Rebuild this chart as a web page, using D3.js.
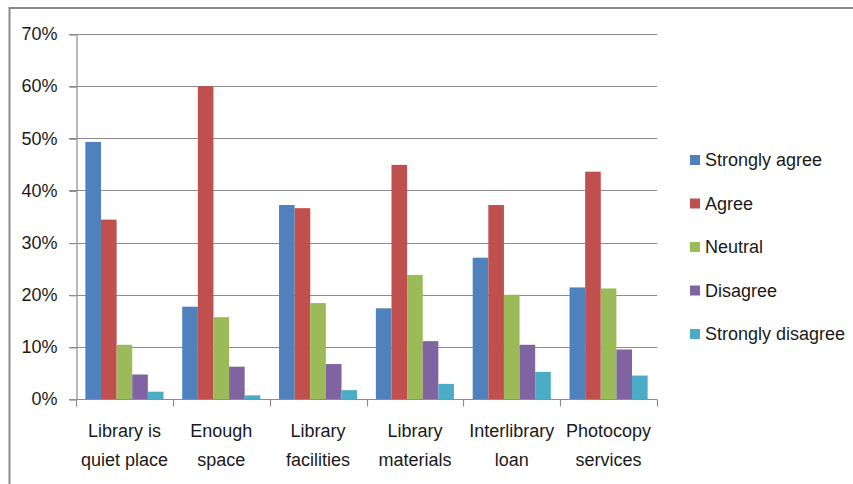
<!DOCTYPE html>
<html>
<head>
<meta charset="utf-8">
<script src="https://cdn.jsdelivr.net/npm/d3@7"></script>
<style>
  html, body { margin: 0; padding: 0; background: #fff; }
  svg { display: block; }
  text { font-family: "Liberation Sans", Arial, sans-serif; fill: #1a1a1a; }
</style>
</head>
<body>
<svg id="chart" width="853" height="484"></svg>
<script>
// Survey categories (two-line labels)
const categories = [
  ["Library is", "quiet place"],
  ["Enough", "space"],
  ["Library", "facilities"],
  ["Library", "materials"],
  ["Interlibrary", "loan"],
  ["Photocopy", "services"]
];
const seriesNames = ["Strongly agree", "Agree", "Neutral", "Disagree", "Strongly disagree"];
const seriesColors = ["#4F81BD", "#C0504D", "#9BBB59", "#8064A2", "#4BACC6"];

// Share of responses per category (%), one array per answer
const stronglyAgree    = [49.3, 17.7, 37.2, 17.4, 27.1, 21.4];
const agree            = [34.4, 60.0, 36.6, 44.9, 37.2, 43.6];
const neutral          = [10.4, 15.7, 18.4, 23.8, 20.0, 21.2];
const disagree         = [4.7, 6.2, 6.7, 11.1, 10.4, 9.5];
const stronglyDisagree = [1.4, 0.7, 1.7, 2.9, 5.2, 4.5];
const yTicks = [0, 10, 20, 30, 40, 50, 60, 70];

const seriesValues = [stronglyAgree, agree, neutral, disagree, stronglyDisagree];

const svg = d3.select("#chart");
const FONT_SIZE = "18px";

// Outer chart frame (top and left edges visible)
svg.append("path")
  .attr("d", "M9.5,860 L9.5,8 L860,8")
  .attr("fill", "none")
  .attr("stroke", "#8a8a8a")
  .attr("stroke-width", 2);

const plot = { left: 76, right: 657, top: 34, bottom: 399 };

const x0 = d3.scaleBand()
  .domain(d3.range(categories.length))
  .range([plot.left, plot.right])
  .paddingInner(0)
  .paddingOuter(0);

const x1 = d3.scaleBand()
  .domain(d3.range(seriesNames.length))
  .range([0, x0.bandwidth()])
  .paddingOuter(0.6)
  .paddingInner(0);

const y = d3.scaleLinear().domain([0, 70]).range([plot.bottom, plot.top]);

// Horizontal gridlines
svg.append("g")
  .selectAll("line")
  .data(yTicks.filter(t => t > 0))
  .join("line")
  .attr("x1", plot.left - 7)
  .attr("x2", plot.right)
  .attr("y1", d => Math.round(y(d)) + 0.5)
  .attr("y2", d => Math.round(y(d)) + 0.5)
  .attr("stroke", "#8c8c8c")
  .attr("stroke-width", 1.2);

// Y axis
const yAxis = d3.axisLeft(y)
  .tickValues(yTicks)
  .tickSize(7)
  .tickPadding(12)
  .tickFormat(d => d + "%");
const gy = svg.append("g")
  .attr("transform", `translate(${plot.left + 0.5},0)`)
  .call(yAxis);
gy.select(".domain").attr("stroke", "#8c8c8c").attr("stroke-width", 1.2);
gy.selectAll(".tick line").attr("stroke", "#8c8c8c").attr("stroke-width", 1.2)
  .attr("transform", "translate(0,0.5)");
gy.selectAll(".tick text")
  .style("font-family", "\"Liberation Sans\", Arial, sans-serif")
  .style("font-size", FONT_SIZE)
  .attr("fill", "#1a1a1a");

// Bars
const groups = svg.append("g")
  .selectAll("g")
  .data(categories.map((c, i) => i))
  .join("g")
  .attr("transform", i => `translate(${x0(i)},0)`);

groups.selectAll("rect")
  .data(i => seriesValues.map((vals, s) => ({ s, v: vals[i] })))
  .join("rect")
  .attr("x", d => x1(d.s))
  .attr("width", x1.bandwidth())
  .attr("y", d => y(d.v))
  .attr("height", d => y(0) - y(d.v))
  .attr("fill", d => seriesColors[d.s]);

// X axis with category boundary ticks
const gx = svg.append("g").attr("transform", `translate(0,${plot.bottom + 0.5})`);
gx.append("line")
  .attr("x1", plot.left - 7).attr("x2", plot.right)
  .attr("stroke", "#8c8c8c").attr("stroke-width", 1.2);
gx.selectAll("line.tick")
  .data(d3.range(categories.length + 1))
  .join("line")
  .attr("class", "tick")
  .attr("x1", i => Math.round(plot.left + i * x0.bandwidth()) + 0.5)
  .attr("x2", i => Math.round(plot.left + i * x0.bandwidth()) + 0.5)
  .attr("y1", 0).attr("y2", 7)
  .attr("stroke", "#8c8c8c").attr("stroke-width", 1.2);

gx.selectAll("text.cat")
  .data(categories)
  .join("text")
  .attr("class", "cat")
  .attr("text-anchor", "middle")
  .attr("x", (d, i) => x0(i) + x0.bandwidth() / 2)
  .attr("y", 37)
  .style("font-size", FONT_SIZE)
  .selectAll("tspan")
  .data(d => d)
  .join("tspan")
  .attr("x", function () { return d3.select(this.parentNode).attr("x"); })
  .attr("dy", (d, j) => j === 0 ? 0 : 29)
  .text(d => d);

// Legend
const legend = svg.append("g").attr("transform", "translate(690,160)");
const li = legend.selectAll("g")
  .data(seriesNames)
  .join("g")
  .attr("transform", (d, i) => `translate(0,${i * 43.5})`);
li.append("rect")
  .attr("x", 0).attr("y", -5)
  .attr("width", 10).attr("height", 10)
  .attr("fill", (d, i) => seriesColors[i]);
li.append("text")
  .attr("x", 15)
  .attr("y", 0)
  .attr("dy", "0.35em")
  .style("font-size", FONT_SIZE)
  .text(d => d);
</script>
</body>
</html>
